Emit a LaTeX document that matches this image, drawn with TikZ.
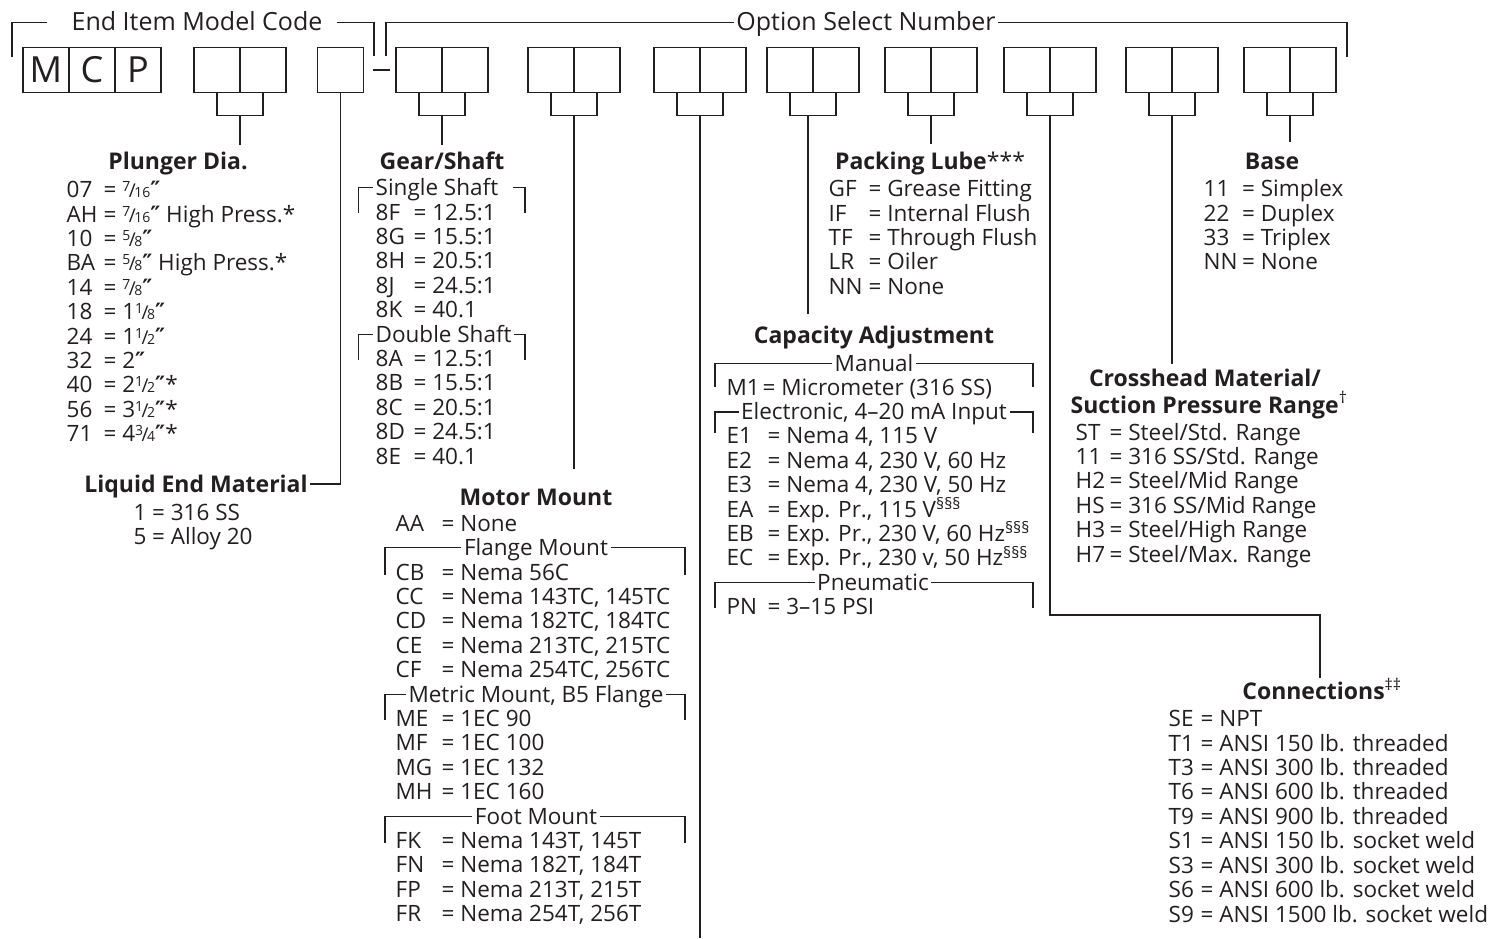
\documentclass[tikz,border=0pt]{standalone}
\usepackage{fontspec}
\setmainfont{Open Sans}
\newfontfamily\symfont{DejaVu Sans}
\usetikzlibrary{calc}
\definecolor{ink}{RGB}{35,31,32}
% fractions, inch marks, footnote marks
\newcommand{\fr}[2]{\smash{{\fontsize{14}{14}\selectfont\raisebox{6pt}{#1}}\kern-1.5pt{\fontsize{19}{19}\selectfont/}\kern-1.5pt{\fontsize{14}{14}\selectfont#2}}}
\newcommand{\inch}{{\symfont\bfseries ″}}
\newcommand{\fn}[1]{\smash{\textsuperscript{#1}}}
% code list: first column width, then rows
\newcommand{\codes}[2]{\begin{tabular}[t]{@{}p{#1}@{=\ }l@{}}#2\end{tabular}}
\tikzset{
  cell/.style={draw, minimum width=46pt, minimum height=45pt, inner sep=0pt,
               font=\fontsize{36}{36}\selectfont},
  hdr/.style={font=\fontsize{25}{26}\selectfont, inner xsep=2pt, inner ysep=0pt,
              text height=17pt, text depth=0pt, anchor=base},
  title/.style={font=\fontsize{23}{24.4}\selectfont\bfseries, inner xsep=1.5pt, inner ysep=5pt,
                text height=16pt, text depth=0pt, anchor=base},
  sub/.style={font=\fontsize{22.5}{24.4}\selectfont, inner xsep=2pt, inner ysep=0pt,
              text height=15pt, text depth=0pt, anchor=base},
  codelist/.style={font=\fontsize{22.5}{24.4}\selectfont, inner sep=0pt, anchor=base west},
}

\begin{document}
\begin{tikzpicture}[x=1pt, y=-1pt, line width=1.3pt, color=ink]
  \useasboundingbox (0,0) rectangle (1505,939);

  % Header brackets
  \node[hdr] (emc) at (197,31) {End Item Model Code};
  \draw ([xshift=-22pt]emc.west) -| (12,57);
  \draw ([xshift=12pt]emc.east) -| (374,56);
  \node[hdr] (osn) at (866,31) {Option Select Number};
  \draw (osn.west) -| (386,56);
  \draw (osn.east) -| (1347,57);
  \draw (373,70) -- (390,70);

  % Code boxes
  \node[cell] (m1) at (46,70) {M};
  \node[cell] (m2) at (92,70) {C};
  \node[cell] (m3) at (138,70) {P};
  \node[cell] (le) at (340.5,70) {};
  \foreach \nm/\x in {pa/194, pb/396, pc/528, pd/654, pe/767, pf/885, pg/1004, ph/1126, pi/1244} {
    \node[cell] (\nm1) at (\x+23,70) {};
    \node[cell] (\nm2) at (\x+69,70) {};
    \draw (\nm1.south) -- ++(0,22.5) -| (\nm2.south);
    \coordinate (\nm) at (\x+46,115);
  }
  \coordinate (pe) at (808,115);

  % Plunger Dia.
  \node[title] (plg) at (178,170) {Plunger Dia.};
  \draw (pa) -- ($(pa |- plg.north)+(0,-3)$);
  \node[codelist] (plgl) at (66,197.7) {\codes{37pt}{%
    07 & \fr{7}{16}\inch\\
    AH & \fr{7}{16}\inch\ High Press.*\\
    10 & \fr{5}{8}\inch\\
    BA & \fr{5}{8}\inch\ High Press.*\\
    14 & \fr{7}{8}\inch\\
    18 & 1\fr{1}{8}\inch\\
    24 & 1\fr{1}{2}\inch\\
    32 & 2\inch\\
    40 & 2\fr{1}{2}\inch*\\
    56 & 3\fr{1}{2}\inch*\\
    71 & 4\fr{3}{4}\inch*}};

  % Liquid End Material
  \node[title] (lem) at (196,492) {Liquid End Material};
  \draw (le.south) |- (lem.east);
  \node[codelist] (leml) at (133,520) {\codes{18.5pt}{%
    1 & 316 SS\\
    5 & Alloy 20}};

  % Gear/Shaft
  \node[title] (gs) at (442,170) {Gear/Shaft};
  \draw (pb) -- ($(pb |- gs.north)+(0,-3)$);
  \node[sub, anchor=base west] (ss) at (373,195) {Single Shaft};
  \draw (ss.west) -| (358.5,213);
  \draw ([xshift=12pt]ss.east) -| (525,213);
  \node[codelist] (ssl) at (375,220) {\codes{38pt}{%
    8F & 12.5:1\\
    8G & 15.5:1\\
    8H & 20.5:1\\
    8J & 24.5:1\\
    8K & 40.1}};
  \node[sub, anchor=base west] (dsh) at (373,342) {Double Shaft};
  \draw (dsh.west) -| (358.5,360);
  \draw (dsh.east) -| (525,360);
  \node[codelist] (dsl) at (375,366.4) {\codes{38pt}{%
    8A & 12.5:1\\
    8B & 15.5:1\\
    8C & 20.5:1\\
    8D & 24.5:1\\
    8E & 40.1}};

  % Motor Mount
  \node[title] (mm) at (536,505) {Motor Mount};
  \draw (pc) -- ($(pc |- mm.north)+(0,-14)$);
  \node[codelist] (aal) at (395,531.7) {\codes{46pt}{AA & None}};
  \node[sub] (fm) at (536,555) {Flange Mount};
  \draw (fm.west) -| (385,575);
  \draw (fm.east) -| (685,575);
  \node[codelist] (fml) at (395,580) {\codes{46pt}{%
    CB & Nema 56C\\
    CC & Nema 143TC, 145TC\\
    CD & Nema 182TC, 184TC\\
    CE & Nema 213TC, 215TC\\
    CF & Nema 254TC, 256TC}};
  \node[sub] (mt) at (536,702) {Metric Mount, B5 Flange};
  \draw (mt.west) -| (385,720);
  \draw (mt.east) -| (685,720);
  \node[codelist] (mtl) at (395,726.4) {\codes{46pt}{%
    ME & 1EC 90\\
    MF & 1EC 100\\
    MG & 1EC 132\\
    MH & 1EC 160}};
  \node[sub] (ft) at (536,824) {Foot Mount};
  \draw (ft.west) -| (385,843);
  \draw (ft.east) -| (685,843);
  \node[codelist] (ftl) at (395,848.4) {\codes{46pt}{%
    FK & Nema 143T, 145T\\
    FN & Nema 182T, 184T\\
    FP & Nema 213T, 215T\\
    FR & Nema 254T, 256T}};

  % open line to the bottom
  \coordinate (pdend) at (700,938);
  \draw (pd) -- (pdend);

  % Packing Lube
  \node[title] (plb) at (930,169) {Packing Lube\textmd{***}};
  \draw (pf) -- ($(pf |- plb.north)+(0,-3)$);
  \node[codelist] (plbl) at (828,196.7) {\codes{40pt}{%
    GF & Grease Fitting\\
    IF & Internal Flush\\
    TF & Through Flush\\
    LR & Oiler\\
    NN & None}};

  % Capacity Adjustment
  \node[title] (cap) at (874,343) {Capacity Adjustment};
  \draw (pe) -- ($(pe |- cap.north)+(0,-7)$);
  \node[sub] (man) at (874,371) {Manual};
  \draw (man.west) -| (715,387);
  \draw (man.east) -| (1033,387);
  \node[codelist] (manl) at (726,395) {\codes{36pt}{M1 & Micrometer (316 SS)}};
  \node[sub] (ele) at (874,419.4) {Electronic, 4–20 mA Input};
  \draw (ele.west) -| (715,433);
  \draw (ele.east) -| (1033,433);
  \node[codelist] (elel) at (726,443.8) {\codes{41pt}{%
    E1 & Nema 4, 115 V\\
    E2 & Nema 4, 230 V, 60 Hz\\
    E3 & Nema 4, 230 V, 50 Hz\\
    EA & Exp. Pr., 115 V\fn{§§§}\\
    EB & Exp. Pr., 230 V, 60 Hz\fn{§§§}\\
    EC & Exp. Pr., 230 v, 50 Hz\fn{§§§}}};
  \node[sub] (pne) at (873,590.2) {Pneumatic};
  \draw (pne.west) -| (715,608);
  \draw (pne.east) -| (1033,608);
  \node[codelist] (pnel) at (726,614.6) {\codes{41pt}{PN & 3–15 PSI}};

  % Base
  \node[title] (bs) at (1272,170) {Base};
  \draw (pi) -- ($(pi |- bs.north)+(0,-6)$);
  \node[codelist] (bsl) at (1203,196.7) {\codes{38.5pt}{%
    11 & Simplex\\
    22 & Duplex\\
    33 & Triplex\\
    NN & None}};

  % Crosshead Material / Suction Pressure Range
  \node[title] (ch) at (1205,386) {Crosshead Material/};
  \node[title] (chb) at (1209,413) {Suction Pressure Range\textmd{\fn{†}}};
  \draw (ph) -- (ph |- ch.north);
  \node[codelist] (chl) at (1075,440) {\codes{34pt}{%
    ST & Steel/Std. Range\\
    11 & 316 SS/Std. Range\\
    H2 & Steel/Mid Range\\
    HS & 316 SS/Mid Range\\
    H3 & Steel/High Range\\
    H7 & Steel/Max. Range}};

  % Connections
  \node[title] (cn) at (1322,699.3) {Connections\textmd{\fn{‡‡}}};
  \coordinate (cbend) at (1320,615);
  \draw (pg) |- (cbend) -- (cbend |- cn.north);
  \node[codelist] (cnl) at (1168,726.7) {\codes{32pt}{%
    SE & NPT\\
    T1 & ANSI 150 lb. threaded\\
    T3 & ANSI 300 lb. threaded\\
    T6 & ANSI 600 lb. threaded\\
    T9 & ANSI 900 lb. threaded\\
    S1 & ANSI 150 lb. socket weld\\
    S3 & ANSI 300 lb. socket weld\\
    S6 & ANSI 600 lb. socket weld\\
    S9 & ANSI 1500 lb. socket weld}};
\end{tikzpicture}
\end{document}
